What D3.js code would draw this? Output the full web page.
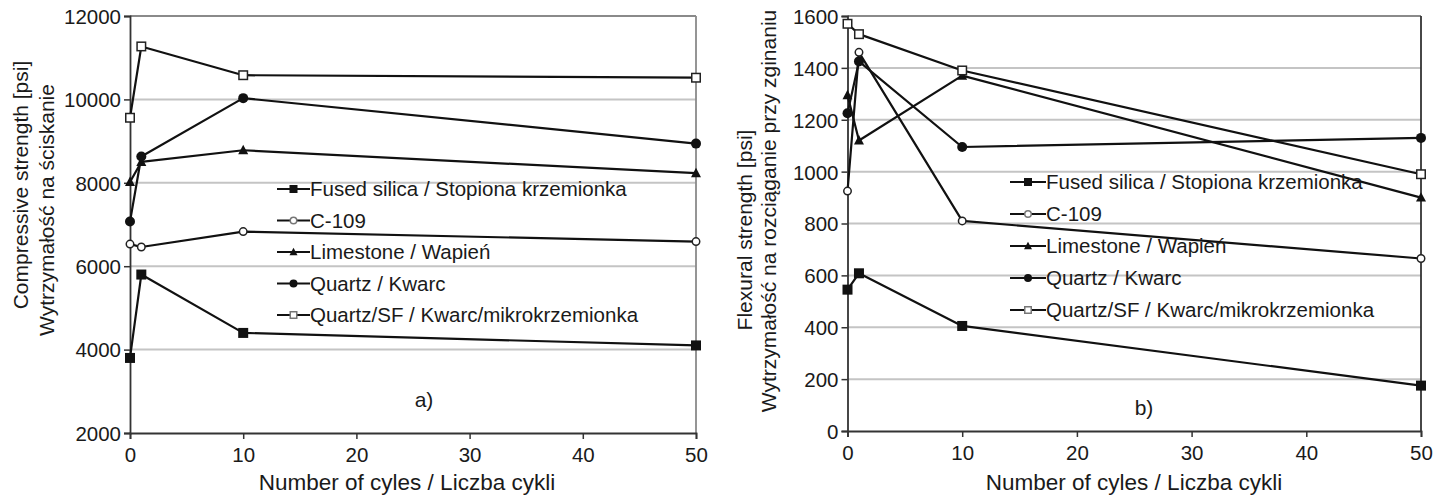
<!DOCTYPE html>
<html>
<head>
<meta charset="utf-8">
<script src="https://cdn.jsdelivr.net/npm/d3@7"></script>
<style>
  html, body { margin: 0; padding: 0; background: #fff; }
  svg { display: block; font-family: "Liberation Sans", Arial, sans-serif; }
</style>
</head>
<body>
<svg id="chart" width="1442" height="498"></svg>
<script>
// ---- data ----
const cycles = [0, 1, 10, 50];
const seriesNames = [
  "Fused silica / Stopiona krzemionka",
  "C-109",
  "Limestone / Wapień",
  "Quartz / Kwarc",
  "Quartz/SF / Kwarc/mikrokrzemionka"
];
const seriesMarkers = ["square", "circleOpen", "triangle", "circle", "squareOpen"];

const compFused     = [3800, 5800, 4400, 4100];
const compC109      = [6530, 6460, 6830, 6590];
const compLimestone = [8020, 8500, 8780, 8230];
const compQuartz    = [7070, 8630, 10030, 8940];
const compQuartzSF  = [9560, 11270, 10580, 10520];

const flexFused     = [545, 608, 405, 175];
const flexC109      = [925, 1460, 810, 665];
const flexLimestone = [1295, 1120, 1370, 900];
const flexQuartz    = [1225, 1425, 1095, 1130];
const flexQuartzSF  = [1570, 1530, 1390, 990];

const xTicks = [0, 10, 20, 30, 40, 50];
const compTicks = [2000, 4000, 6000, 8000, 10000, 12000];
const flexTicks = [0, 200, 400, 600, 800, 1000, 1200, 1400, 1600];

const xTitle = "Number of cyles / Liczba cykli";
const compTitle = ["Compressive strength [psi]", "Wytrzymałość na ściskanie"];
const flexTitle = ["Flexural strength [psi]", "Wytrzymałość na rozciąganie przy zginaniu"];

// ---- drawing ----
const svg = d3.select("#chart");
svg.append("rect").attr("width", 1442).attr("height", 498).attr("fill", "#fff");

function marker(g, type, x, y, s) {
  const stroke = "#111";
  if (type === "square") {
    g.append("rect").attr("x", x - s/2).attr("y", y - s/2).attr("width", s).attr("height", s).attr("fill", stroke);
  } else if (type === "squareOpen") {
    g.append("rect").attr("x", x - s/2 + 0.75).attr("y", y - s/2 + 0.75).attr("width", s - 1.5).attr("height", s - 1.5)
      .attr("fill", "#fff").attr("stroke", g.attr("data-open") || "#333").attr("stroke-width", 1.5);
  } else if (type === "circle") {
    g.append("circle").attr("cx", x).attr("cy", y).attr("r", s/2).attr("fill", stroke);
  } else if (type === "circleOpen") {
    g.append("circle").attr("cx", x).attr("cy", y).attr("r", s/2 - 0.75)
      .attr("fill", "#fff").attr("stroke", g.attr("data-open") || "#333").attr("stroke-width", 1.5);
  } else if (type === "triangle") {
    const h = s * 0.9;
    g.append("path").attr("d", `M${x},${y - h*0.6}L${x + s/2},${y + h*0.45}L${x - s/2},${y + h*0.45}Z`).attr("fill", stroke);
  }
}

function drawChart(opt) {
  const x = d3.scaleLinear().domain([0, 50]).range([opt.x0, opt.x1]);
  const y = d3.scaleLinear().domain(opt.yDomain).range([opt.yBottom, opt.yTop]);
  const g = svg.append("g");

  // gridlines
  g.append("g").selectAll("line").data(opt.yTicks.slice(1, -1)).join("line")
    .attr("x1", opt.x0).attr("x2", opt.x1)
    .attr("y1", d => y(d)).attr("y2", d => y(d))
    .attr("stroke", "#c4c4c4").attr("stroke-width", 2);
  // top border
  g.append("line").attr("x1", opt.x0).attr("x2", opt.x1).attr("y1", y(opt.yDomain[1])).attr("y2", y(opt.yDomain[1]))
    .attr("stroke", "#8a8a8a").attr("stroke-width", 2);
  // right border
  g.append("line").attr("x1", opt.x1).attr("x2", opt.x1).attr("y1", opt.yTop).attr("y2", opt.yBottom)
    .attr("stroke", opt.rightColor).attr("stroke-width", 1.8);

  // axes
  const fmt = d3.format("d");
  const xAxis = d3.axisBottom(x).tickValues(xTicks).tickFormat(fmt).tickSize(6).tickPadding(5);
  const yAxis = d3.axisLeft(y).tickValues(opt.yTicks).tickFormat(fmt).tickSize(6).tickPadding(3);
  const xa = g.append("g").attr("transform", `translate(0,${opt.yBottom})`).call(xAxis);
  const ya = g.append("g").attr("transform", `translate(${opt.x0},0)`).call(yAxis);
  [xa, ya].forEach(a => {
    a.select(".domain").attr("stroke", "#333").attr("stroke-width", 1.8);
    a.selectAll(".tick line").attr("stroke", "#333").attr("stroke-width", 1.5);
    a.selectAll(".tick text").attr("fill", "#1a1a1a").style("font-size", "20.5px")
      .style("font-family", "'Liberation Sans', Arial, sans-serif");
  });
  xa.selectAll(".tick text").attr("dy", "0.9em");
  ya.selectAll(".tick text").attr("dy", "0.36em");

  // series
  const line = d3.line().x((d, i) => x(cycles[i])).y(d => y(d));
  opt.series.forEach((vals, si) => {
    const sg = g.append("g").attr("data-open", "#222");
    sg.append("path").datum(vals).attr("d", line).attr("fill", "none")
      .attr("stroke", "#111").attr("stroke-width", 2.2).attr("stroke-linejoin", "round");
    vals.forEach((v, i) => marker(sg, seriesMarkers[si], x(cycles[i]), y(v), seriesMarkers[si] === "circleOpen" ? 9 : 10));
  });

  // legend
  const lg = g.append("g").attr("data-open", "#777");
  seriesNames.forEach((name, i) => {
    const ly = opt.legY + i * opt.legStep;
    lg.append("line").attr("x1", opt.legX).attr("x2", opt.legX + opt.legLen).attr("y1", ly).attr("y2", ly)
      .attr("stroke", "#111").attr("stroke-width", 2);
    marker(lg, seriesMarkers[i], opt.legX + opt.legLen / 2, ly, 8);
    lg.append("text").attr("x", opt.legX + opt.legLen).attr("y", ly).attr("dy", "0.35em")
      .attr("fill", "#1a1a1a").style("font-size", "20.5px").text(name);
  });

  // panel label
  g.append("text").attr("x", opt.labX).attr("y", opt.labY).attr("text-anchor", "middle").attr("dy", "0.35em")
    .attr("fill", "#1a1a1a").style("font-size", "21px").text(opt.label);

  // x title
  g.append("text").attr("x", opt.xTitleX).attr("y", 490).attr("text-anchor", "middle")
    .attr("fill", "#1a1a1a").style("font-size", "22.5px").text(xTitle);

  // y titles
  opt.yTitle.forEach((t, i) => {
    g.append("text").attr("transform", `translate(${opt.yTitleX[i]},${opt.yTitleY[i]}) rotate(-90)`)
      .attr("text-anchor", "middle").attr("fill", "#1a1a1a").style("font-size", "21px").text(t);
  });
}

drawChart({
  x0: 130, x1: 696, yTop: 16, yBottom: 433,
  yDomain: [2000, 12000], yTicks: compTicks,
  series: [compFused, compC109, compLimestone, compQuartz, compQuartzSF],
  rightColor: "#8a8a8a",
  legX: 277, legLen: 33, legY: 189, legStep: 31.5,
  label: "a)", labX: 424, labY: 400,
  xTitleX: 407,
  yTitle: compTitle, yTitleX: [28, 54], yTitleY: [185, 210]
});

drawChart({
  x0: 847.5, x1: 1421, yTop: 16, yBottom: 431,
  yDomain: [0, 1600], yTicks: flexTicks,
  series: [flexFused, flexC109, flexLimestone, flexQuartz, flexQuartzSF],
  rightColor: "#333",
  legX: 1010, legLen: 36, legY: 182, legStep: 32,
  label: "b)", labX: 1144, labY: 408,
  xTitleX: 1134,
  yTitle: flexTitle, yTitleX: [752, 776], yTitleY: [230, 211]
});
</script>
</body>
</html>
